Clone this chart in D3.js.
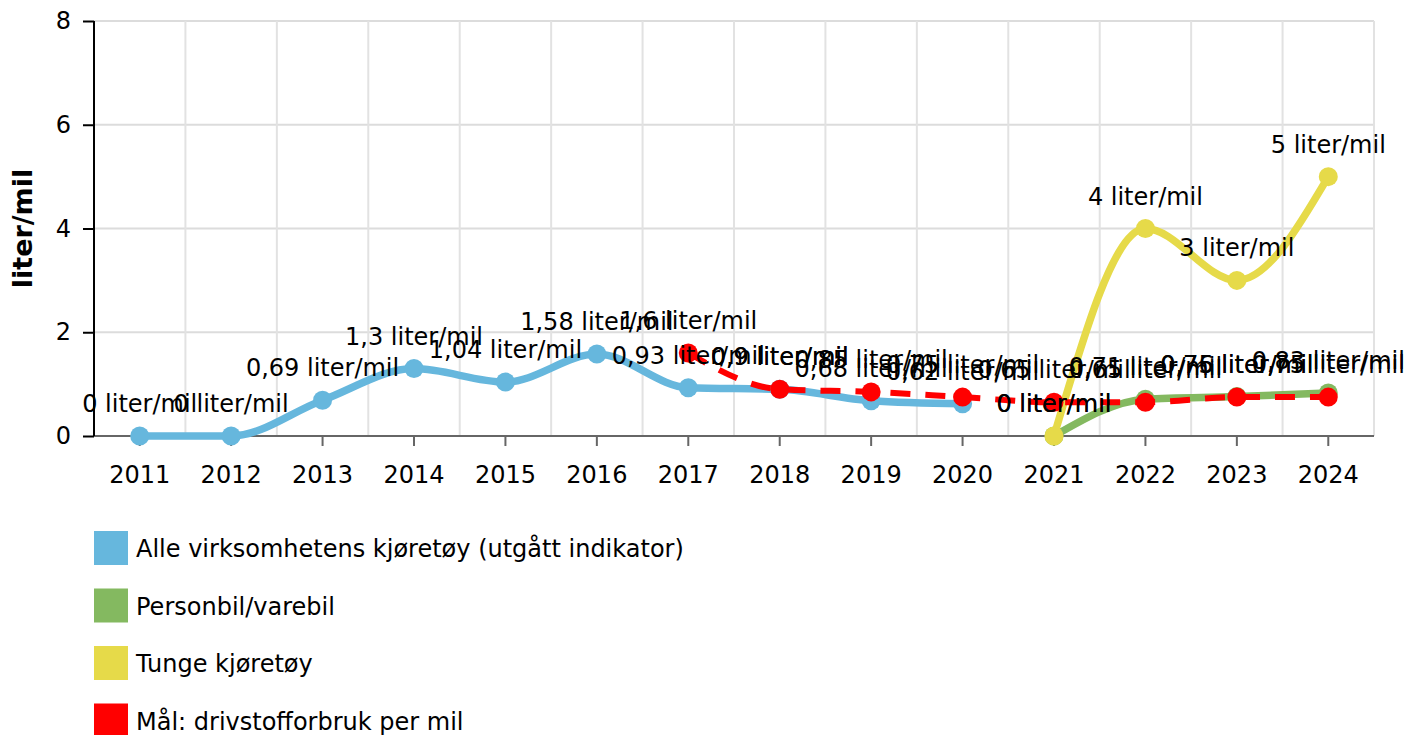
<!DOCTYPE html>
<html>
<head>
<meta charset="utf-8">
<script src="https://cdn.jsdelivr.net/npm/d3@7"></script>
<style>
  body { margin: 0; background: #fff; }
  text { font-family: "DejaVu Sans", Verdana, sans-serif; }
</style>
</head>
<body>
<div id="chart"></div>
<script>
var width = 1408
var height = 735

// categories (years) and series values, null = no value
var years = ["2011","2012","2013","2014","2015","2016","2017","2018","2019","2020","2021","2022","2023","2024"]
var alleValues   = [0, 0, 0.69, 1.3, 1.04, 1.58, 0.93, 0.9, 0.68, 0.62, null, null, null, null]
var personValues = [null, null, null, null, null, null, null, null, null, null, 0, 0.71, 0.76, 0.83]
var tungeValues  = [null, null, null, null, null, null, null, null, null, null, 0, 4, 3, 5]
var maalValues   = [null, null, null, null, null, null, 1.6, 0.9, 0.85, 0.75, 0.65, 0.65, 0.75, 0.75]
var yTicks = [0, 2, 4, 6, 8]

var seriesNames = ["Alle virksomhetens kjøretøy (utgått indikator)", "Personbil/varebil", "Tunge kjøretøy", "Mål: drivstofforbruk per mil"]
var seriesColors = ["#66b7dd", "#84b960", "#e6da49", "#ff0000"]
var seriesValues = [alleValues, personValues, tungeValues, maalValues]

var plot = {left: 94, right: 1374, top: 21, bottom: 436}
var fontSize = "24px"

var svg = d3.select("#chart").append("svg")
    .attr("width", width)
    .attr("height", height)

var xScale = d3.scaleBand().domain(years).range([plot.left, plot.right])
var yScale = d3.scaleLinear().domain([0, 8]).range([plot.bottom, plot.top])
function xc(d) { return xScale(d) + xScale.bandwidth() / 2 }

// grid lines
var gridG = svg.append("g")
gridG.selectAll(".hgrid")
    .data(yTicks.slice(1))
    .enter().append("line")
    .attr("x1", plot.left).attr("x2", plot.right)
    .attr("y1", function(d) { return yScale(d) })
    .attr("y2", function(d) { return yScale(d) })
    .attr("stroke", "#dcdcdc").attr("stroke-width", 2)
gridG.selectAll(".vgrid")
    .data(years)
    .enter().append("line")
    .attr("x1", function(d) { return xScale(d) + xScale.bandwidth() })
    .attr("x2", function(d) { return xScale(d) + xScale.bandwidth() })
    .attr("y1", plot.top).attr("y2", plot.bottom)
    .attr("stroke", "#e2e2e2").attr("stroke-width", 2)

// x axis
var xAxis = d3.axisBottom(xScale).tickSize(10).tickPadding(20)
var xAxisG = svg.append("g")
    .attr("transform", "translate(0," + plot.bottom + ")")
    .call(xAxis)
xAxisG.select(".domain").attr("stroke", "#666").attr("stroke-width", 2)
    .attr("d", "M" + plot.left + ",0H" + plot.right)
xAxisG.selectAll(".tick line").attr("stroke", "#666").attr("stroke-width", 2)
xAxisG.selectAll(".tick text").attr("font-size", fontSize).attr("fill", "#000")
    .attr("font-family", "DejaVu Sans")

// y axis
var yAxis = d3.axisLeft(yScale).tickValues(yTicks).tickSize(11).tickPadding(12)
var yAxisG = svg.append("g")
    .attr("transform", "translate(" + plot.left + ",0)")
    .call(yAxis)
yAxisG.select(".domain").attr("stroke", "#000").attr("stroke-width", 2)
    .attr("d", "M0," + plot.top + "V" + plot.bottom)
yAxisG.selectAll(".tick line").attr("stroke", "#000").attr("stroke-width", 2)
yAxisG.selectAll(".tick text").attr("font-size", fontSize).attr("fill", "#000")
    .attr("font-family", "DejaVu Sans")

svg.append("text")
    .attr("transform", "translate(32," + ((plot.top + plot.bottom) / 2) + ") rotate(-90)")
    .attr("text-anchor", "middle")
    .attr("font-size", "27px")
    .attr("font-weight", "bold")
    .text("liter/mil")

// series lines and markers
var line = d3.line()
    .defined(function(d) { return d.v !== null })
    .x(function(d) { return xc(d.year) })
    .y(function(d) { return yScale(d.v) })
    .curve(d3.curveMonotoneX)

var seriesData = seriesValues.map(function(vals, i) {
    return vals.map(function(v, j) { return {year: years[j], v: v, s: i} })
})

var seriesG = svg.append("g")
seriesData.forEach(function(pts, i) {
    var g = seriesG.append("g")
    g.append("path")
        .datum(pts)
        .attr("d", line)
        .attr("fill", "none")
        .attr("stroke", seriesColors[i])
        .attr("stroke-width", i == 3 ? 6 : 7.5)
        .attr("stroke-dasharray", i == 3 ? "20,15" : null)
        .attr("stroke-linecap", i == 3 ? "butt" : "round")
        .attr("stroke-linejoin", "round")
    g.selectAll("circle")
        .data(pts.filter(function(d) { return d.v !== null }))
        .enter().append("circle")
        .attr("cx", function(d) { return xc(d.year) })
        .attr("cy", function(d) { return yScale(d.v) })
        .attr("r", 9.5)
        .attr("fill", seriesColors[i])
})

// data labels, on top of all series
var labelsG = svg.append("g")
seriesData.forEach(function(pts) {
    labelsG.selectAll(null)
        .data(pts.filter(function(d) { return d.v !== null }))
        .enter().append("text")
        .attr("x", function(d) { return xc(d.year) })
        .attr("y", function(d) { return yScale(d.v) - 24 })
        .attr("text-anchor", "middle")
        .attr("font-size", fontSize)
        .attr("fill", "#000")
        .text(function(d) { return String(d.v).replace(".", ",") + " liter/mil" })
})

// legend
var legendG = svg.append("g")
seriesNames.forEach(function(name, i) {
    var y0 = 531 + i * 57.5
    legendG.append("rect")
        .attr("x", 94).attr("y", y0)
        .attr("width", 34).attr("height", 34)
        .attr("fill", seriesColors[i])
    legendG.append("text")
        .attr("x", 136).attr("y", y0 + 26)
        .attr("font-size", fontSize)
        .attr("fill", "#000")
        .text(name)
})
</script>
</body>
</html>
